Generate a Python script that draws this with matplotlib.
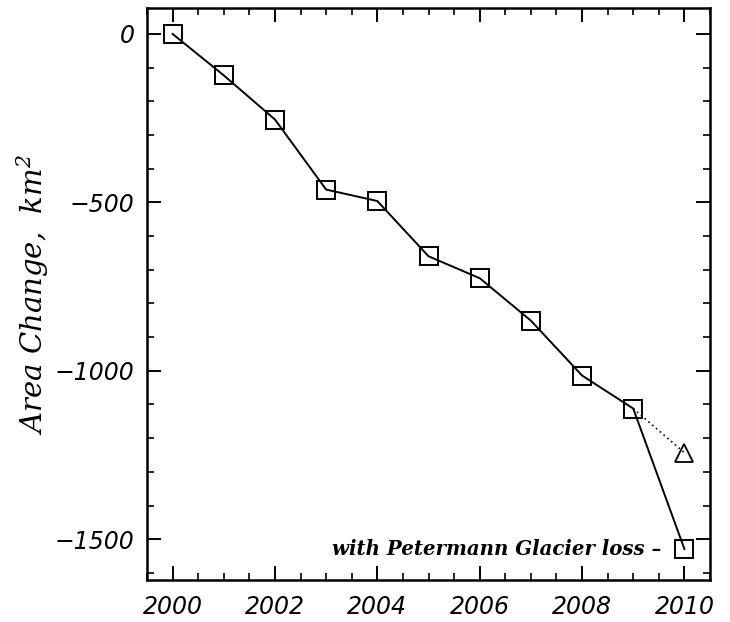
import matplotlib
matplotlib.use("Agg")
import matplotlib.pyplot as plt
from matplotlib.ticker import MultipleLocator

years = [2000, 2001, 2002, 2003, 2004, 2005, 2006, 2007, 2008, 2009, 2010]
area_change = [0, -123, -254, -462, -496, -660, -725, -851, -1014, -1112, -1529]
alt_years = [2009, 2010]
alt_change = [-1112, -1243]
annotation = "with Petermann Glacier loss \u2013"
xticks = [2000, 2002, 2004, 2006, 2008, 2010]
yticks = [0, -500, -1000, -1500]

fig = plt.figure(figsize=(7.3, 6.22), dpi=100)
ax = fig.add_axes([147/730, 1 - 580/622, (710-147)/730, (580-8)/622])

ax.plot(alt_years, alt_change, color="black", lw=1.2, ls=(0, (1, 2)))
ax.plot(alt_years[1:], alt_change[1:], ls="none", marker="^", ms=13,
        mfc="none", mec="black", mew=1.3)
ax.plot(years, area_change, color="black", lw=1.4, marker="s", ms=12.5,
        mfc="none", mec="black", mew=1.4)

ax.set_xlim(1999.5, 2010.5)
ax.set_ylim(-1621, 77)
ax.set_xticks(xticks)
ax.set_yticks(yticks)
ax.xaxis.set_minor_locator(MultipleLocator(0.5))
ax.yaxis.set_minor_locator(MultipleLocator(100))

tickfont = dict(family="DejaVu Sans", style="oblique", size=17, weight="medium")
ax.set_xticklabels([str(v) for v in xticks], fontdict=tickfont)
ax.set_yticklabels(["\u2212" + str(-v) if v < 0 else str(v) for v in yticks],
                   fontdict=tickfont)
ax.tick_params(which="major", direction="in", length=10, width=1.4,
               top=True, right=True, pad=9)
ax.tick_params(axis="x", which="major", pad=11)
ax.tick_params(which="minor", direction="in", length=5, width=1.2,
               top=True, right=True)
for s in ax.spines.values():
    s.set_linewidth(1.8)

ax.set_ylabel("Area Change,  km$^{\\mathregular{2}}$", fontsize=21,
              family="DejaVu Serif", style="italic", labelpad=3)

ax.text(2009.55, area_change[-1], annotation, ha="right", va="center",
        fontsize=14.2, family="DejaVu Serif", style="italic", weight="bold")

fig.savefig("out.png", dpi=100)
